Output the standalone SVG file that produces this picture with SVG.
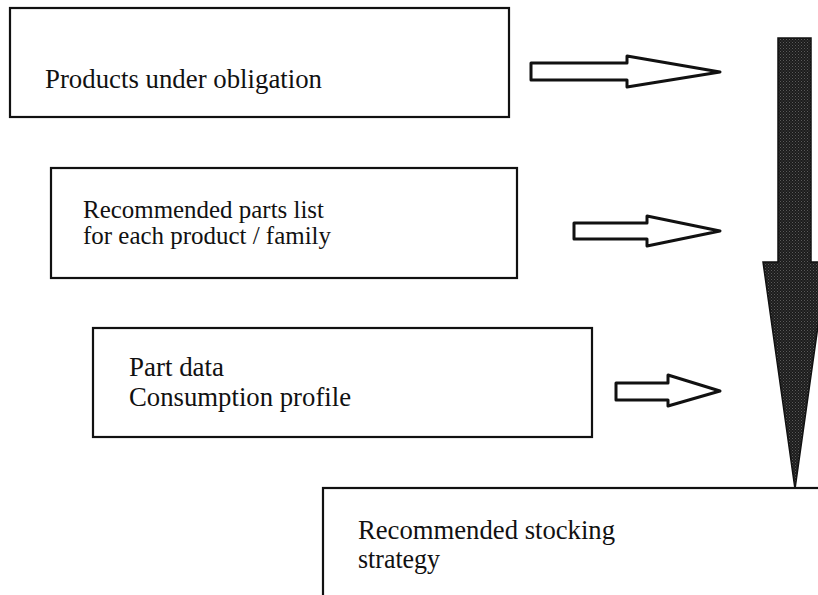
<svg xmlns="http://www.w3.org/2000/svg" width="818" height="595" viewBox="0 0 818 595">
  <defs>
    <style>
      .box { fill: #ffffff; stroke: #111; stroke-width: 2.2; }
      .lbl { font-family: "Liberation Serif", Tinos, "Times New Roman", "DejaVu Serif", serif; font-size: 26.5px; fill: #111; }
      .lbl2 { font-size: 25px; }
      .hollow { fill: #ffffff; stroke: #111; stroke-width: 3; stroke-linejoin: round; }
      .solid { fill: url(#stipple); stroke: #111; stroke-width: 1.5; stroke-linejoin: miter; }
    </style>
    <!-- dark speckled fill for the main flow arrow -->
    <pattern id="stipple" width="3" height="3" patternUnits="userSpaceOnUse">
      <rect width="3" height="3" fill="#1c1c1c"/>
      <rect x="0" y="0" width="1" height="1" fill="#5a5a5a"/>
      <rect x="1.5" y="1.5" width="1" height="1" fill="#4a4a4a"/>
    </pattern>
  </defs>

  <rect width="818" height="595" fill="#ffffff"/>

  <g id="products">
    <rect class="box" x="10" y="8" width="499" height="109"/>
    <text class="lbl" x="45" y="88" textLength="277" lengthAdjust="spacingAndGlyphs">Products under obligation</text>
  </g>

  <g id="parts-list">
    <rect class="box" x="51" y="168" width="466" height="110"/>
    <text class="lbl lbl2" x="83" y="218" textLength="241" lengthAdjust="spacingAndGlyphs">Recommended parts list</text>
    <text class="lbl lbl2" x="83" y="244" textLength="248" lengthAdjust="spacingAndGlyphs">for each product / family</text>
  </g>

  <g id="part-data">
    <rect class="box" x="93" y="328" width="499" height="109"/>
    <text class="lbl" x="129" y="376" textLength="95" lengthAdjust="spacingAndGlyphs">Part data</text>
    <text class="lbl" x="129" y="406" textLength="222" lengthAdjust="spacingAndGlyphs">Consumption profile</text>
  </g>

  <g id="connectors">
    <path class="hollow" d="M531,63 L627,63 L627,56 L720,72 L627,87 L627,80 L531,80 Z"/>
    <path class="hollow" d="M574,223 L647,223 L647,216 L720,231 L647,246 L647,239 L574,239 Z"/>
    <path class="hollow" d="M616,383 L668,383 L668,375 L720,391 L668,406 L668,400 L616,400 Z"/>
    <path class="solid" d="M778,38 L811,38 L811,262 L827,262 L795,489 L763,262 L778,262 Z"/>
  </g>

  <g id="stocking-strategy">
    <rect class="box" x="323" y="488" width="520" height="130"/>
    <text class="lbl" x="358" y="539" textLength="257" lengthAdjust="spacingAndGlyphs">Recommended stocking</text>
    <text class="lbl" x="358" y="568" textLength="82" lengthAdjust="spacingAndGlyphs">strategy</text>
  </g>
</svg>
